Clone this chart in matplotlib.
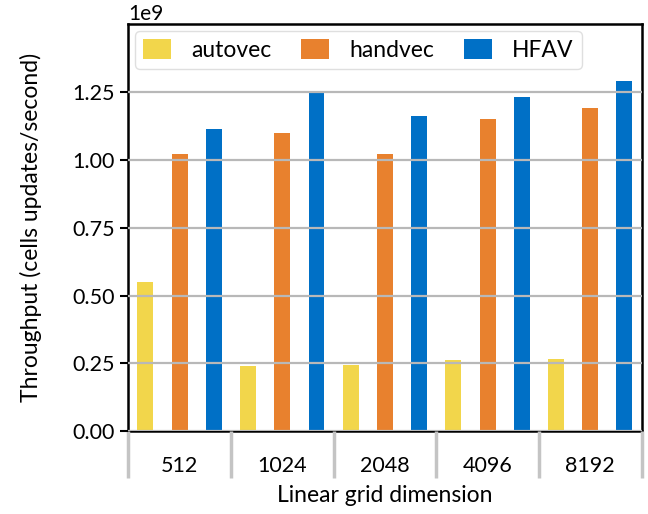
import numpy as np
import matplotlib
matplotlib.use('Agg')
import matplotlib.pyplot as plt
from matplotlib.ticker import FixedLocator

plt.rcParams['font.family'] = ['Lato', 'DejaVu Sans']
plt.rcParams['font.size'] = 15.5

# throughput per grid size (cell updates / second)
sizes   = ["512", "1024", "2048", "4096", "8192"]
autovec = [0.549e9, 0.240e9, 0.243e9, 0.262e9, 0.265e9]
handvec = [1.021e9, 1.100e9, 1.020e9, 1.150e9, 1.191e9]
hfav    = [1.113e9, 1.250e9, 1.162e9, 1.232e9, 1.290e9]

series = [("autovec", autovec, "#f2d64b"),
          ("handvec", handvec, "#e8812e"),
          ("HFAV",    hfav,    "#0070c6")]

x = np.arange(len(sizes))
w = 0.155

fig, ax = plt.subplots(figsize=(6.48, 5.14), dpi=100)
for j, (name, vals, col) in enumerate(series):
    ax.bar(x + (j - 1) / 3, vals, w, color=col, label=name, zorder=1)

ax.set_xlim(-0.5, len(sizes) - 0.5)
ax.set_ylim(0, 1.5e9)
ax.set_yticks(np.arange(0, 1.26e9, 0.25e9))
ax.yaxis.grid(True, color="#b8b8b8", linewidth=1.6)
ax.set_axisbelow(False)

ax.set_xticks(x)
ax.set_xticklabels(sizes)
ax.xaxis.set_minor_locator(FixedLocator(np.arange(-0.5, len(sizes), 1.0)))
ax.tick_params(axis='x', which='major', length=0, pad=18)
ax.tick_params(axis='x', which='minor', length=34, width=2.5, color="#c4c4c4")
ax.tick_params(axis='y', length=6, width=1.5, color="black")
ax.yaxis.get_offset_text().set_fontsize(15)

for sp in ax.spines.values():
    sp.set_linewidth(1.8)

ax.set_xlabel("Linear grid dimension", fontsize=16.5, labelpad=1)
ax.set_ylabel("Throughput (cells updates/second)", fontsize=16.5, labelpad=22)

ax.legend(loc="upper left", ncol=3, frameon=True, fancybox=True,
          edgecolor="#d8d8d8", fontsize=16.5, handlelength=1.2,
          handleheight=0.95, columnspacing=1.3, handletextpad=0.9,
          borderaxespad=0.3, borderpad=0.35)

plt.subplots_adjust(left=0.198, right=0.99, top=0.953, bottom=0.161)
plt.savefig("out.png", dpi=100)
